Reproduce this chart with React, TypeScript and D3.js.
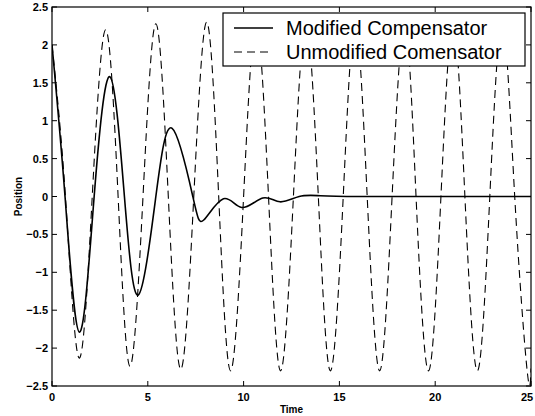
import React from "react";
import * as d3 from "d3";

// values (extrema and zero crossings)
const modifiedT = [0, 0.68, 1.43, 2.2, 3.02, 3.78, 4.5, 5.42, 6.27, 7.35, 7.92, 8.95, 9.9, 11.0, 11.9, 12.9, 14, 16, 20, 25];
const modifiedY = [2.0, 0, -1.79, 0, 1.58, 0, -1.3, 0, 0.9, 0, -0.31, -0.03, -0.145, -0.02, -0.07, 0.0, 0.01, 0.0, 0.0, 0.0];

const unmodifiedT = [
  0, 0.7, 1.41, 2.1, 2.8, 3.45, 4.07, 4.75, 5.42, 6.07, 6.72, 7.4, 8.07, 8.7, 9.32, 10.0, 10.65, 11.3, 11.93,
  12.6, 13.25, 13.9, 14.53, 15.2, 15.82, 16.45, 17.1, 17.75, 18.4, 19.0, 19.65, 20.3, 20.93, 21.55, 22.2, 22.85,
  23.5, 24.15, 24.8, 25,
];
const unmodifiedY = [
  2.0, 0, -2.13, 0, 2.2, 0, -2.24, 0, 2.28, 0, -2.28, 0, 2.3, 0, -2.3, 0, 2.3, 0, -2.3,
  0, 2.3, 0, -2.3, 0, 2.3, 0, -2.3, 0, 2.3, 0, -2.3, 0, 2.3, 0, -2.3, 0,
  2.3, 0, -2.3, -2.27,
];

const xTicks = [0, 5, 10, 15, 20, 25];
const yTicks = [-2.5, -2, -1.5, -1, -0.5, 0, 0.5, 1, 1.5, 2, 2.5];
const legendLabels = ["Modified Compensator", "Unmodified Comensator"];

const W = 535;
const H = 416;
const m = { left: 52, right: 4, top: 7, bottom: 30 };

export default function App() {
  const x = d3.scaleLinear().domain([0, 25]).range([m.left, W - m.right]);
  const y = d3.scaleLinear().domain([-2.5, 2.5]).range([H - m.bottom, m.top]);

  const line = d3
    .line<[number, number]>()
    .x((d) => x(d[0]))
    .y((d) => y(d[1]))
    .curve(d3.curveNatural);

  const solid = modifiedT.map((t, i) => [t, modifiedY[i]] as [number, number]);
  const dashed = unmodifiedT.map((t, i) => [t, unmodifiedY[i]] as [number, number]);

  const x0 = x(0), x1 = x(25), y0 = y(-2.5), y1 = y(2.5);
  const tick = 5;
  const font = "'Liberation Sans', Arial, Helvetica, sans-serif";

  const lg = { x: 223, y: 13, w: 302, h: 53 };

  return (
    <svg width={W} height={H} style={{ position: "fixed", left: 0, top: 0, background: "#fff" }} fontFamily={font}>
      <defs>
        <clipPath id="plot">
          <rect x={x0} y={y1} width={x1 - x0} height={y0 - y1} />
        </clipPath>
      </defs>

      <g clipPath="url(#plot)" fill="none" stroke="#000">
        <path d={line(dashed) ?? ""} strokeWidth={1.1} strokeDasharray="8,5" />
        <path d={line(solid) ?? ""} strokeWidth={1.6} />
      </g>

      {/* box */}
      <rect x={x0} y={y1} width={x1 - x0} height={y0 - y1} fill="none" stroke="#000" strokeWidth={1.2} />

      {/* x ticks */}
      {xTicks.map((t) => (
        <g key={"x" + t}>
          <line x1={x(t)} x2={x(t)} y1={y0} y2={y0 - tick} stroke="#000" />
          <line x1={x(t)} x2={x(t)} y1={y1} y2={y1 + tick} stroke="#000" />
          <text x={Math.min(x(t), W - 8)} y={y0 + 15} textAnchor="middle" fontSize={11} fontWeight="bold">
            {t}
          </text>
        </g>
      ))}

      {/* y ticks */}
      {yTicks.map((t) => (
        <g key={"y" + t}>
          <line x1={x0} x2={x0 + tick} y1={y(t)} y2={y(t)} stroke="#000" />
          <line x1={x1} x2={x1 - tick} y1={y(t)} y2={y(t)} stroke="#000" />
          <text x={x0 - 4} y={y(t) + 4} textAnchor="end" fontSize={11} fontWeight="bold">
            {t < 0 ? "\u2212" + Math.abs(t) : t}
          </text>
        </g>
      ))}

      <text x={(x0 + x1) / 2} y={413} textAnchor="middle" fontSize={10} fontWeight="bold">
        Time
      </text>
      <text
        transform={`translate(22,${(y0 + y1) / 2}) rotate(-90)`}
        textAnchor="middle"
        fontSize={10}
        fontWeight="bold"
      >
        Position
      </text>

      {/* legend */}
      <rect x={lg.x} y={lg.y} width={lg.w} height={lg.h} fill="#fff" stroke="#000" strokeWidth={1.2} />
      {legendLabels.map((label, i) => {
        const cy = lg.y + 15 + i * 24;
        return (
          <g key={label}>
            <line
              x1={lg.x + 11}
              x2={lg.x + 50}
              y1={cy}
              y2={cy}
              stroke="#000"
              strokeWidth={i === 0 ? 1.6 : 1.1}
              strokeDasharray={i === 0 ? undefined : "8,5"}
            />
            <text x={lg.x + 63} y={cy + 7} fontSize={20}>
              {label}
            </text>
          </g>
        );
      })}
    </svg>
  );
}
